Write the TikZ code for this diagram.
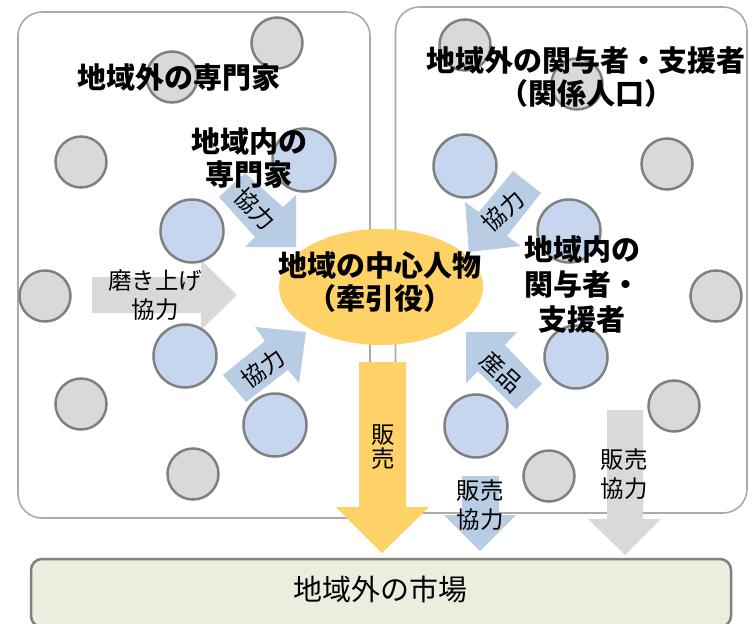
\documentclass[tikz,border=0pt]{standalone}
\usepackage{fontspec}
\setmainfont{Noto Sans CJK JP}
\begin{document}
\begin{tikzpicture}[x=1pt,y=-1pt,
  region/.style={draw=black!33,line width=1.6pt,rounded corners=24pt},
  gcirc/.style={circle,draw=black!50,line width=2.5pt,fill=black!15,minimum size=51pt,inner sep=0pt},
  bcirc/.style={circle,draw=black!50,line width=2.5pt,fill=blue1,minimum size=63pt,inner sep=0pt},
  grayarrow/.style={fill=black!15,draw=none},
  bluearrow/.style={fill=blue2,draw=none},
  yelarrow/.style={fill=yel,draw=none},
  head/.style={font=\fontsize{29}{33}\selectfont\bfseries,align=center,inner sep=0pt},
  lab/.style={font=\fontsize{23.5}{29.5}\selectfont,align=center,inner sep=0pt},
]
\definecolor{blue1}{HTML}{C5D6EE}
\definecolor{blue2}{HTML}{B8CCE4}
\definecolor{yel}{HTML}{FFD267}
\definecolor{mkt}{HTML}{EBEEDF}
\useasboundingbox (0,0) rectangle (756,624);
\clip (0,0) rectangle (756,624);
\fill[white] (0,0) rectangle (756,624);
% regions
\draw[region] (18,12) rectangle (370,518);
\draw[region] (395.5,7) rectangle (747,513);
% market
\node[draw=black!50,line width=2.5pt,fill=mkt,rounded corners=11pt,minimum width=700pt,minimum height=68pt,inner sep=0pt] (market) at (381,593) {};
\node[font=\fontsize{29}{33}\selectfont,inner sep=0pt] (markettext) at (380,589) {地域外の市場};
% grey arrow behind circles
\fill[grayarrow] (92,277) -- (201,277) -- (201,260) -- (237,295) -- (201,330) -- (201,313) -- (92,313) -- cycle;
% grey circles
\foreach \n/\p in {g1/{277,43},g2/{172,77},g3/{81,162},g4/{45,296},g5/{81,404},g6/{193,474},
  g7/{465,45},g8/{577,84},g9/{667,164},g10/{716,296},g11/{674,406},g12/{549,476}}
  {\node[gcirc] (\n) at (\p) {};}
% blue circles
\foreach \n/\p in {b1/{304,160},b2/{192,231},b3/{185,356},b4/{275,425},
  b5/{465,166},b6/{569,231},b7/{576,357},b8/{476,426}}
  {\node[bcirc] (\n) at (\p) {};}
% central ellipse
\fill[yel] (381,287) ellipse [x radius=102pt,y radius=58pt];
\coordinate (centre) at (381,287);
% arrows
\fill[bluearrow] (219,197) -- (245,173) -- (283,207) -- (296,195) -- (296,247) -- (245,247) -- (255,237) -- cycle;
\fill[bluearrow] (223,375) -- (265,341) -- (255,327) -- (306,332) -- (299,383) -- (288,370) -- (246,402) -- cycle;
\fill[bluearrow] (513,171) -- (541,193) -- (507,236) -- (521,246) -- (469,252) -- (465,202) -- (479,212) -- cycle;
\fill[bluearrow] (542,384) -- (516,409) -- (478,371) -- (466,383) -- (466,332) -- (517,332) -- (505,345) -- cycle;
\fill[bluearrow] (462,476) -- (499,476) -- (499,515) -- (516,515) -- (480,551) -- (444,515) -- (462,515) -- cycle;
\fill[grayarrow] (607,410) -- (643,410) -- (643,519) -- (661,519) -- (625,555) -- (588,519) -- (607,519) -- cycle;
\fill[yelarrow] (359,362) -- (406,362) -- (406,507) -- (429,507) -- (382,553) -- (336,507) -- (359,507) -- cycle;
% headings
\node[head] (t1) at (179,78) {地域外の専門家};
\node[head] (t2) at (249,158) {地域内の\\専門家};
\node[head] (t3) at (586,77) {地域外の関与者・支援者\\（関係人口）};
\node[head] (t4) at (380,282) {地域の中心人物\\（牽引役）};
\node[head,font=\fontsize{29}{35}\selectfont\bfseries] (t5) at (582,284) {地域内の\\関与者・\\支援者};
% arrow labels
\node[lab] (l1) at (155,295) {磨き上げ\\協力};
\node[lab,rotate=-45] (l2) at (255,209) {協力};
\node[lab,rotate=37] (l3) at (263,368) {協力};
\node[lab,rotate=43] (l4) at (503,211) {協力};
\node[lab,rotate=-43] (l5) at (502,372) {産品};
\node[lab,font=\fontsize{23.5}{24}\selectfont] (l6) at (383,447) {販\\売};
\node[lab] (l7) at (480,505) {販売\\協力};
\node[lab] (l8) at (624,474) {販売\\協力};
\end{tikzpicture}
\end{document}
